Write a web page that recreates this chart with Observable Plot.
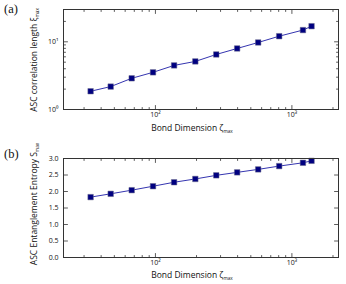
<!DOCTYPE html>
<html>
<head>
<meta charset="utf-8">
<script src="https://cdn.jsdelivr.net/npm/d3@7"></script>
<script src="https://cdn.jsdelivr.net/npm/@observablehq/plot@0.6"></script>
<style>
  html, body { margin: 0; padding: 0; background: #fff; }
  #chart { width: 346px; height: 284px; position: relative; }
  #chart svg { display: block; }
</style>
</head>
<body>
<div id="chart"></div>
<script>
// ---- data ----
const bondDims   = [33.5, 47, 67, 96, 137, 196, 279, 397, 566, 807, 1205, 1393];
const corrLength = [1.86, 2.18, 2.89, 3.54, 4.48, 5.13, 6.5, 7.97, 9.77, 12.1, 14.9, 17.0];
const entropy    = [1.83, 1.93, 2.04, 2.16, 2.28, 2.38, 2.49, 2.58, 2.67, 2.77, 2.87, 2.93];

const xMajor = [100, 1000];
const xMinor = [30, 40, 50, 60, 70, 80, 90, 200, 300, 400, 500, 600, 700, 800, 900, 2000];
const yaMajor = [1, 10];
const yaMinor = [2, 3, 4, 5, 6, 7, 8, 9, 20];
const ybMajor = [0, 0.5, 1.0, 1.5, 2.0, 2.5, 3.0];

const panelA = bondDims.map((d, i) => ({x: d, y: corrLength[i]}));
const panelB = bondDims.map((d, i) => ({x: d, y: entropy[i]}));

const sup = {"0": "\u2070", "1": "\u00b9", "2": "\u00b2", "3": "\u00b3"};
const powFmt = d => "10" + sup[String(Math.round(Math.log10(d)))];

const FONT = "'Open Sans', 'DejaVu Sans', sans-serif";
const AXC = "#333";
const LINEC = "#3535b0";
const MARKC = "#000080";

const tickShape = {draw(context, l) { context.moveTo(0, 0); context.lineTo(0, -l); }};

function ticks(values, dim, len) {
  const common = {length: len, anchor: "start", shape: tickShape, stroke: AXC, strokeWidth: 0.8};
  if (dim === "x") return [
    Plot.vector(values, {x: d => d, frameAnchor: "bottom", rotate: 0, ...common}),
    Plot.vector(values, {x: d => d, frameAnchor: "top", rotate: 180, ...common})
  ];
  return [
    Plot.vector(values, {y: d => d, frameAnchor: "left", rotate: 90, ...common}),
    Plot.vector(values, {y: d => d, frameAnchor: "right", rotate: -90, ...common})
  ];
}

const xScale = {type: "log", domain: [21.2, 2195], axis: null};

function makePanel({height, marginTop, marginBottom, y, data, yTickVals, yTickFmt, yMinorVals}) {
  return Plot.plot({
    width: 346, height,
    marginLeft: 63, marginRight: 8, marginTop, marginBottom,
    style: {fontFamily: FONT, background: "#fff", overflow: "visible"},
    x: xScale,
    y,
    marks: [
      Plot.line(data, {x: "x", y: "y", stroke: LINEC, strokeWidth: 1}),
      Plot.dot(data, {x: "x", y: "y", symbol: "square", r: 3.1, fill: MARKC, stroke: "#6a6a8a", strokeWidth: 0.5}),
      ...ticks(xMajor, "x", 4),
      ...ticks(xMinor, "x", 2),
      ...ticks(yTickVals, "y", 4),
      ...(yMinorVals ? ticks(yMinorVals, "y", 2) : []),
      Plot.axisX({ticks: xMajor, tickSize: 0, tickPadding: 3, tickFormat: powFmt, fontSize: 7, fill: "#111", label: null}),
      Plot.axisY({ticks: yTickVals, tickSize: 0, tickPadding: 5, tickFormat: yTickFmt, fontSize: 7, fill: "#111", label: null}),
      Plot.frame({stroke: AXC, strokeWidth: 1})
    ]
  });
}

const svgA = makePanel({
  height: 135, marginTop: 9, marginBottom: 26,
  y: {type: "log", domain: [1, 30], axis: null},
  data: panelA, yTickVals: yaMajor, yTickFmt: powFmt, yMinorVals: yaMinor
});
const svgB = makePanel({
  height: 149, marginTop: 23, marginBottom: 27,
  y: {type: "linear", domain: [0, 3], axis: null},
  data: panelB, yTickVals: ybMajor, yTickFmt: d3.format(".1f"), yMinorVals: null
});

function addLabel(svg, {x, y, rotate, parts, size, anchor = "middle", family = FONT}) {
  const t = d3.select(svg).append("text")
    .attr("transform", `translate(${x},${y})` + (rotate ? ` rotate(${rotate})` : ""))
    .attr("text-anchor", anchor)
    .attr("font-family", family)
    .attr("font-size", size)
    .attr("fill", "#111");
  for (const p of parts) {
    const s = t.append("tspan").text(p.text);
    if (p.sub) s.attr("font-size", size * 0.55).attr("baseline-shift", "-30%");
  }
  return t;
}

// panel letters
addLabel(svgA, {x: 4, y: 13, parts: [{text: "(a)"}], size: 12.5, anchor: "start", family: "'Liberation Serif', 'DejaVu Serif', serif"});
addLabel(svgB, {x: 4, y: 23, parts: [{text: "(b)"}], size: 12.5, anchor: "start", family: "'Liberation Serif', 'DejaVu Serif', serif"});

// axis titles
addLabel(svgA, {x: 37, y: 60, rotate: -90, size: 8.5, parts: [{text: "ASC correlation length ξ"}, {text: "max", sub: true}]});
addLabel(svgA, {x: 192, y: 131, size: 8.5, parts: [{text: "Bond Dimension ζ"}, {text: "max", sub: true}]});
addLabel(svgB, {x: 37, y: 69, rotate: -90, size: 8.5, parts: [{text: "ASC Entanglement Entropy S"}, {text: "max", sub: true}]});
addLabel(svgB, {x: 192, y: 143, size: 8.5, parts: [{text: "Bond Dimension ζ"}, {text: "max", sub: true}]});

document.getElementById("chart").append(svgA, svgB);
</script>
</body>
</html>
